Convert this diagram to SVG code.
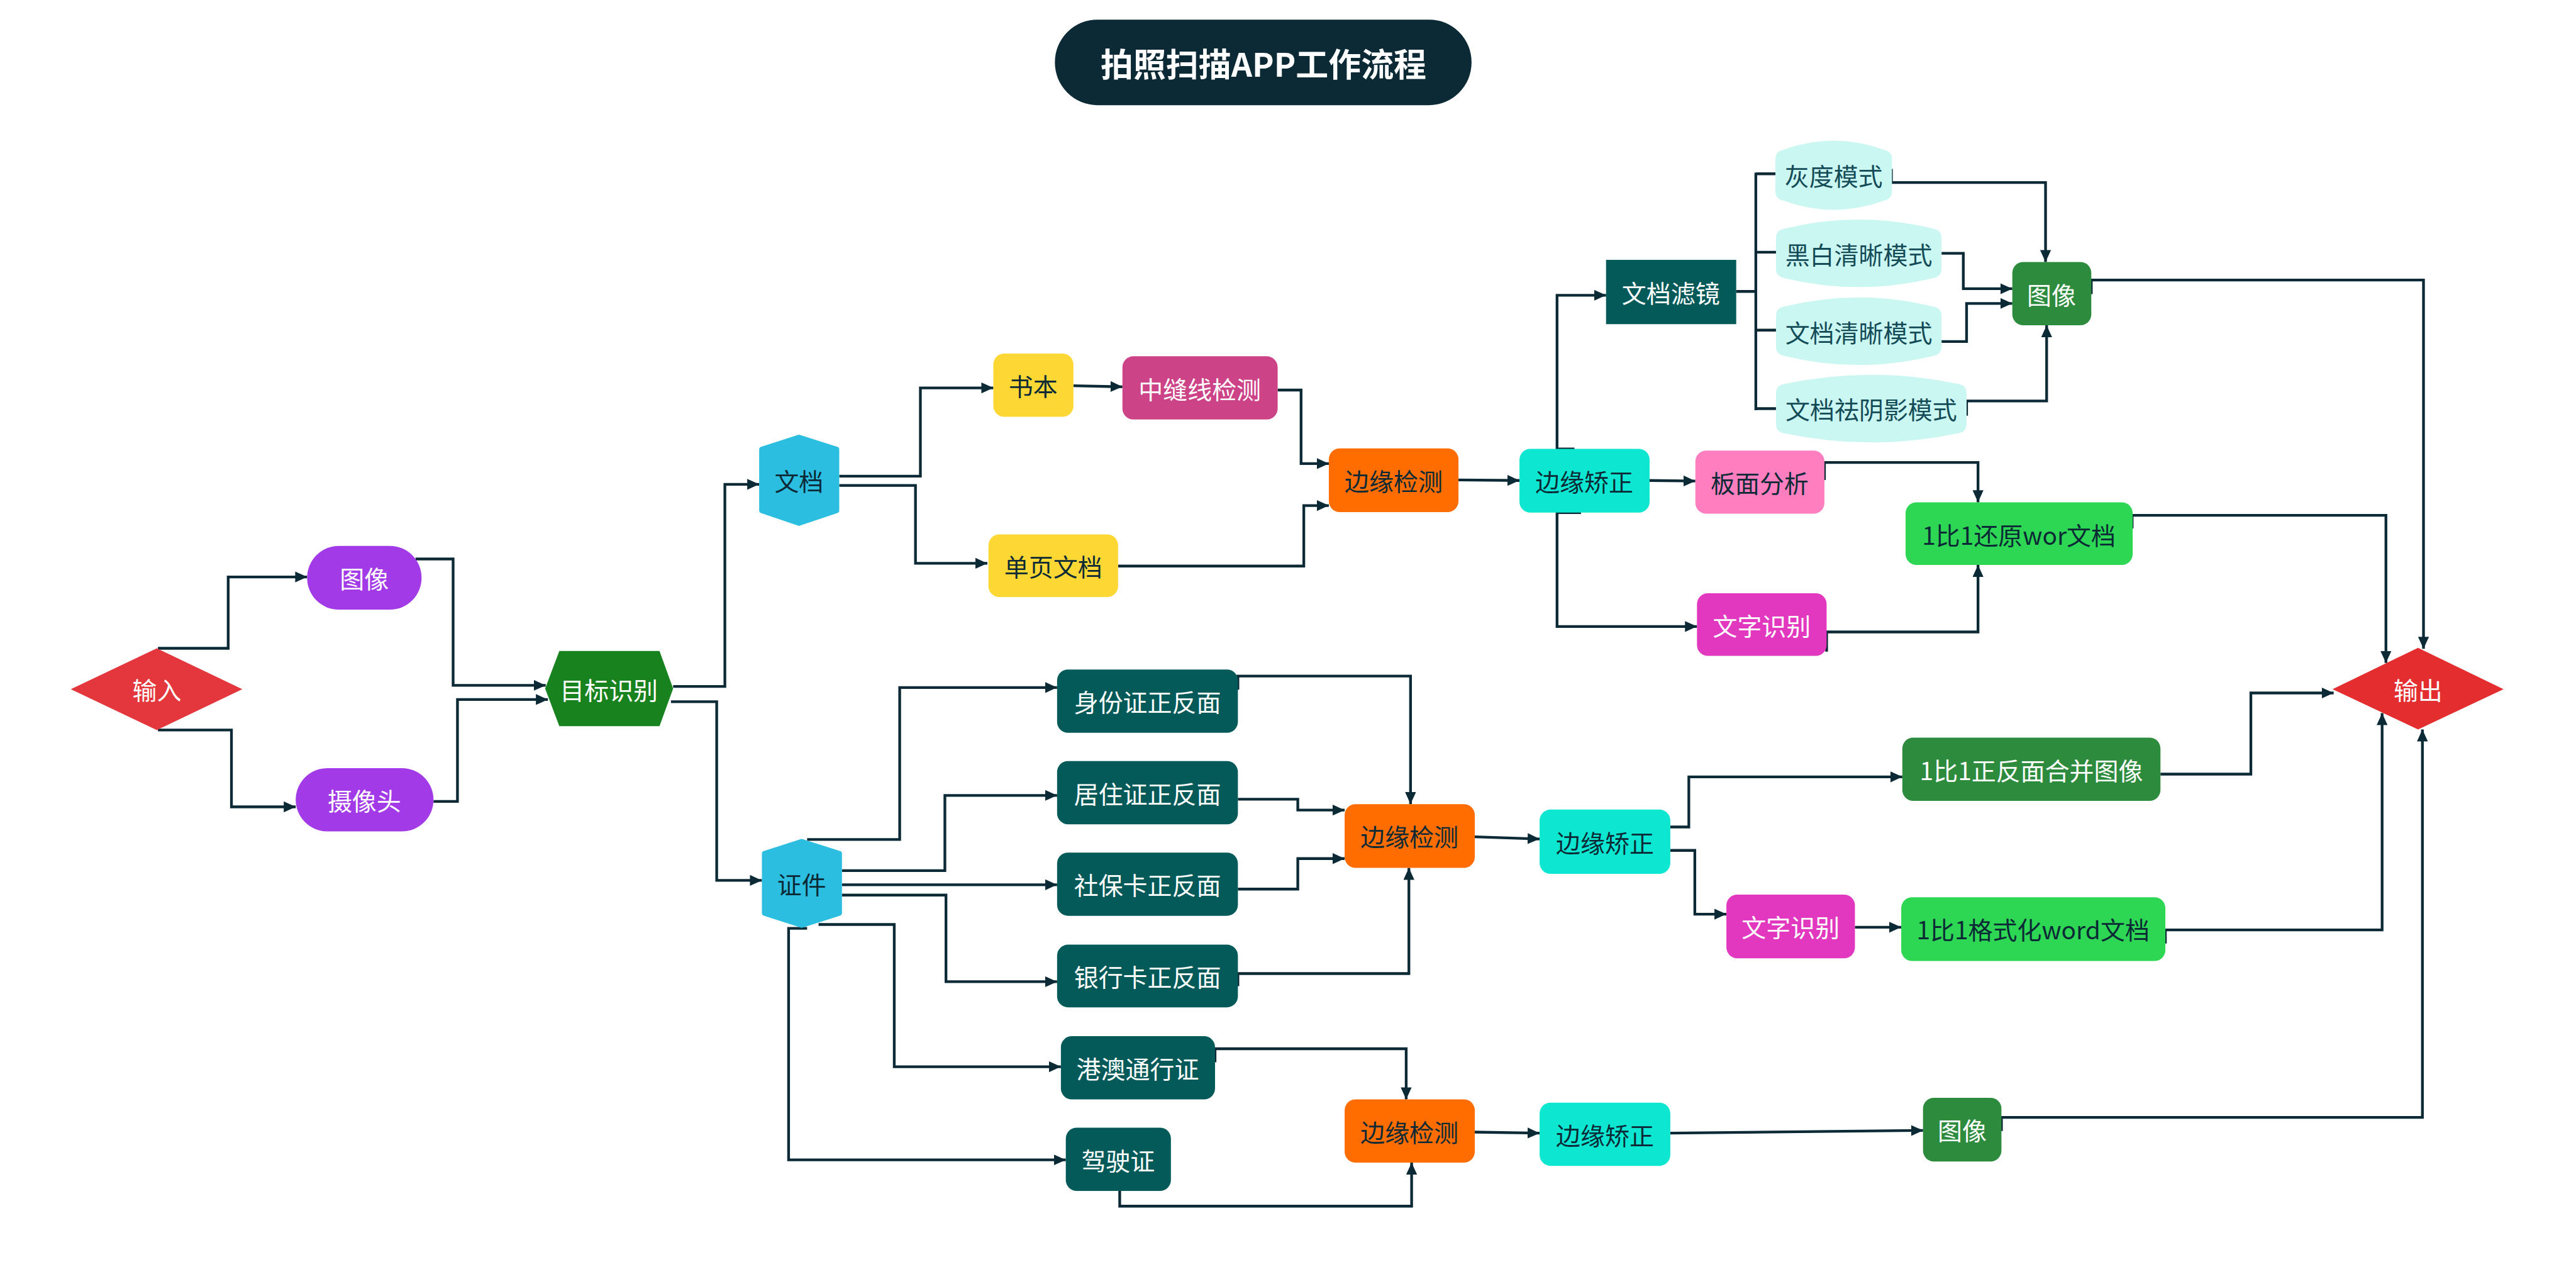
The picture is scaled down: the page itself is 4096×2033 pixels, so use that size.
<svg xmlns="http://www.w3.org/2000/svg" width="4096" height="2033" viewBox="0 0 4096 2033">
<defs>
<style>
text{font-family:"Noto Sans CJK SC","Noto Sans",sans-serif;font-size:45px;text-anchor:middle;dominant-baseline:central}
.w{fill:#ffffff}
.d{fill:#0B2A35}
.t{fill:#134B57}
.c{fill:none;stroke:#0B2A35;stroke-width:5}
.a{marker-end:url(#arr)}
</style>
<marker id="arr" markerUnits="userSpaceOnUse" markerWidth="24" markerHeight="22" refX="22" refY="10" orient="auto"><path d="M0,0 L22,10 L0,20 Z" fill="#0B2A35"/></marker>
</defs>
<rect width="4096" height="2033" fill="#ffffff"/>
<g transform="scale(0.86596)">
<g id="title"><rect x="1937" y="36" width="765" height="157" rx="78" fill="#0B2A35"/><text x="2320" y="115" class="w" style="font-size:60px;font-weight:bold">拍照扫描APP工作流程</text></g>

<g id="connectors">
<path class="c a" d="M290,1190 L419,1190 L419,1059 L564,1059"/>
<path class="c a" d="M290,1340 L425,1340 L425,1481 L543,1481"/>
<path class="c a" d="M763,1026 L832,1026 L832,1258 L1002,1258"/>
<path class="c a" d="M796,1471 L840,1471 L840,1284 L1006,1284"/>
<path class="c a" d="M1236,1260 L1331,1260 L1331,889 L1394,889"/>
<path class="c a" d="M1232,1288 L1316,1288 L1316,1616 L1399,1616"/>
<path class="c a" d="M1541,874 L1690,874 L1690,712 L1824,712"/>
<path class="c a" d="M1541,891 L1681,891 L1681,1034 L1813,1034"/>
<path class="c a" d="M1971,708 L2061,710"/>
<path class="c a" d="M2346,716 L2389,716 L2389,851 L2440,851"/>
<path class="c a" d="M2053,1039 L2394,1039 L2394,928 L2440,928"/>
<path class="c a" d="M2678,881 L2790,882"/>
<path class="c a" d="M2891,824 L2859,824 L2859,542 L2949,542"/>
<path class="c a" d="M3029,882 L3113,883"/>
<path class="c a" d="M2903,941 L2859,941 L2859,1150 L3116,1150"/>
<path class="c" d="M3188,535 L3224,535 M3224,317 L3224,753 M3224,319 L3262,319 M3224,463 L3262,463 M3224,606 L3262,606 M3224,750 L3262,750"/>
<path class="c a" d="M3473,310 L3473,335 L3756,335 L3756,481"/>
<path class="c a" d="M3565,465 L3605,465 L3605,530 L3695,530"/>
<path class="c a" d="M3565,627 L3611,627 L3611,557 L3695,557"/>
<path class="c a" d="M3611,763 L3611,736 L3758,736 L3758,597"/>
<path class="c a" d="M3840,540 L3840,514 L4450,514 L4450,1191"/>
<path class="c a" d="M3350,881 L3350,849 L3632,849 L3632,922"/>
<path class="c a" d="M3354,1196 L3354,1160 L3632,1160 L3632,1037"/>
<path class="c a" d="M3915,970 L3915,946 L4381,946 L4381,1217"/>
<path class="c a" d="M1482,1541 L1652,1541 L1652,1262 L1941,1262"/>
<path class="c a" d="M1546,1598 L1735,1598 L1735,1460 L1941,1460"/>
<path class="c a" d="M1546,1624 L1941,1624"/>
<path class="c a" d="M1546,1643 L1737,1643 L1737,1802 L1941,1802"/>
<path class="c a" d="M1503,1697 L1642,1697 L1642,1958 L1948,1958"/>
<path class="c a" d="M1482,1704 L1448,1704 L1448,2129 L1957,2129"/>
<path class="c a" d="M2273,1266 L2273,1241 L2590,1241 L2590,1476"/>
<path class="c a" d="M2273,1467 L2383,1467 L2383,1487 L2469,1487"/>
<path class="c a" d="M2273,1632 L2383,1632 L2383,1576 L2469,1576"/>
<path class="c a" d="M2273,1810 L2273,1787 L2587,1787 L2587,1593"/>
<path class="c a" d="M2231,1950 L2231,1925 L2582,1925 L2582,2018"/>
<path class="c a" d="M2056,2186 L2056,2214 L2592,2214 L2592,2134"/>
<path class="c a" d="M2708,1536 L2827,1540"/>
<path class="c a" d="M2708,2078 L2827,2080"/>
<path class="c a" d="M3067,1518 L3101,1518 L3101,1426 L3493,1426"/>
<path class="c a" d="M3067,1561 L3112,1561 L3112,1678 L3170,1678"/>
<path class="c a" d="M3406,1702 L3491,1702"/>
<path class="c a" d="M3967,1421 L4133,1421 L4133,1272 L4285,1272"/>
<path class="c a" d="M3976,1732 L3976,1707 L4374,1707 L4374,1309"/>
<path class="c a" d="M3067,2080 L3531,2075"/>
<path class="c a" d="M3675,2076 L3675,2051 L4448,2051 L4448,1339"/>
</g>

<g id="n-input"><polygon points="288,1190 445,1265 288,1340 130,1265" fill="#E4373D"/><text x="288" y="1265" class="w">输入</text></g>
<g id="n-img-in"><rect x="564" y="1002" width="210" height="117" rx="58" fill="#A23AE8"/><text x="669" y="1060" class="w">图像</text></g>
<g id="n-camera"><rect x="543" y="1410" width="253" height="116" rx="58" fill="#A23AE8"/><text x="669" y="1468" class="w">摄像头</text></g>
<g id="n-detect"><polygon points="1001,1264 1027,1195 1211,1195 1236,1264 1211,1333 1027,1333" fill="#18821E"/><text x="1118" y="1264" class="w">目标识别</text></g>
<g id="n-doc"><polygon points="1467,803 1536,825 1536,937 1467,960 1399,937 1399,825" fill="#2BBEE0" stroke="#2BBEE0" stroke-width="10" stroke-linejoin="round"/><text x="1467" y="881" class="d">文档</text></g>
<g id="n-cert"><polygon points="1472,1545 1541,1567 1541,1676 1472,1698 1404,1676 1404,1567" fill="#2BBEE0" stroke="#2BBEE0" stroke-width="10" stroke-linejoin="round"/><text x="1472" y="1621" class="d">证件</text></g>
<g id="n-book"><rect x="1824" y="649" width="147" height="116" rx="20" fill="#FDD835"/><text x="1897" y="707" class="d">书本</text></g>
<g id="n-seam"><rect x="2061" y="654" width="285" height="116" rx="20" fill="#CC4387"/><text x="2203" y="712" class="w">中缝线检测</text></g>
<g id="n-single"><rect x="1815" y="981" width="238" height="115" rx="20" fill="#FDD835"/><text x="1934" y="1038" class="d">单页文档</text></g>
<g id="n-edge1"><rect x="2440" y="823" width="238" height="117" rx="20" fill="#FF6D00"/><text x="2559" y="881" class="d">边缘检测</text></g>
<g id="n-fix1"><rect x="2790" y="824" width="239" height="117" rx="20" fill="#0DE6D0"/><text x="2909" y="882" class="d">边缘矫正</text></g>
<g id="n-filter"><rect x="2949" y="477" width="239" height="118" fill="#035A59"/><text x="3068" y="536" class="w">文档滤镜</text></g>
<g id="n-gray"><path d="M3260,292 Q3260,278 3274,275 Q3367,241 3460,275 Q3474,278 3474,292 L3474,351 Q3474,365 3460,368 Q3367,402 3274,368 Q3260,365 3260,351 Z" fill="#CBF7F2"/><text x="3367" y="321" class="t">灰度模式</text></g>
<g id="n-bw"><path d="M3261,437 Q3261,423 3275,420 Q3413,386 3551,420 Q3565,423 3565,437 L3565,493 Q3565,507 3551,510 Q3413,544 3275,510 Q3261,507 3261,493 Z" fill="#CBF7F2"/><text x="3413" y="465" class="t">黑白清晰模式</text></g>
<g id="n-clear"><path d="M3261,580 Q3261,566 3275,563 Q3413,529 3551,563 Q3565,566 3565,580 L3565,636 Q3565,650 3551,653 Q3413,687 3275,653 Q3261,650 3261,636 Z" fill="#CBF7F2"/><text x="3413" y="608" class="t">文档清晰模式</text></g>
<g id="n-shadow"><path d="M3261,722 Q3261,708 3275,705 Q3436,671 3597,705 Q3611,708 3611,722 L3611,778 Q3611,792 3597,795 Q3436,829 3275,795 Q3261,792 3261,778 Z" fill="#CBF7F2"/><text x="3436" y="750" class="t">文档祛阴影模式</text></g>
<g id="n-img1"><rect x="3695" y="481" width="145" height="116" rx="20" fill="#2D8B3E"/><text x="3767" y="539" class="w">图像</text></g>
<g id="n-layout"><rect x="3113" y="827" width="237" height="116" rx="20" fill="#FF7EC0"/><text x="3231" y="885" class="d">板面分析</text></g>
<g id="n-restore"><rect x="3499" y="922" width="417" height="115" rx="20" fill="#2DD653"/><text x="3707" y="980" class="d">1比1还原wor文档</text></g>
<g id="n-ocr1"><rect x="3116" y="1089" width="238" height="115" rx="20" fill="#E238C0"/><text x="3235" y="1147" class="w">文字识别</text></g>
<g id="n-output"><polygon points="4440,1189 4597,1265 4440,1339 4283,1265" fill="#E32D2F"/><text x="4440" y="1265" class="w">输出</text></g>
<g id="n-id"><rect x="1941" y="1229" width="332" height="116" rx="20" fill="#035A59"/><text x="2107" y="1287" class="w">身份证正反面</text></g>
<g id="n-res"><rect x="1941" y="1397" width="332" height="116" rx="20" fill="#035A59"/><text x="2107" y="1455" class="w">居住证正反面</text></g>
<g id="n-social"><rect x="1941" y="1565" width="332" height="116" rx="20" fill="#035A59"/><text x="2107" y="1623" class="w">社保卡正反面</text></g>
<g id="n-bank"><rect x="1941" y="1734" width="332" height="115" rx="20" fill="#035A59"/><text x="2107" y="1791" class="w">银行卡正反面</text></g>
<g id="n-hk"><rect x="1948" y="1902" width="283" height="116" rx="20" fill="#035A59"/><text x="2089" y="1960" class="w">港澳通行证</text></g>
<g id="n-drive"><rect x="1957" y="2070" width="193" height="116" rx="20" fill="#035A59"/><text x="2053" y="2128" class="w">驾驶证</text></g>
<g id="n-edge2"><rect x="2469" y="1476" width="239" height="117" rx="20" fill="#FF6D00"/><text x="2588" y="1534" class="d">边缘检测</text></g>
<g id="n-edge3"><rect x="2469" y="2018" width="239" height="116" rx="20" fill="#FF6D00"/><text x="2588" y="2076" class="d">边缘检测</text></g>
<g id="n-fix2"><rect x="2827" y="1486" width="240" height="118" rx="20" fill="#0DE6D0"/><text x="2947" y="1545" class="d">边缘矫正</text></g>
<g id="n-fix3"><rect x="2827" y="2024" width="240" height="116" rx="20" fill="#0DE6D0"/><text x="2947" y="2082" class="d">边缘矫正</text></g>
<g id="n-merge"><rect x="3493" y="1354" width="474" height="116" rx="20" fill="#2D8B3E"/><text x="3730" y="1412" class="w">1比1正反面合并图像</text></g>
<g id="n-ocr2"><rect x="3170" y="1642" width="236" height="117" rx="20" fill="#E238C0"/><text x="3288" y="1700" class="w">文字识别</text></g>
<g id="n-word"><rect x="3491" y="1647" width="485" height="117" rx="20" fill="#2DD653"/><text x="3733" y="1705" class="d">1比1格式化word文档</text></g>
<g id="n-img3"><rect x="3531" y="2015" width="144" height="117" rx="20" fill="#2D8B3E"/><text x="3603" y="2073" class="w">图像</text></g>
</g>
</svg>
